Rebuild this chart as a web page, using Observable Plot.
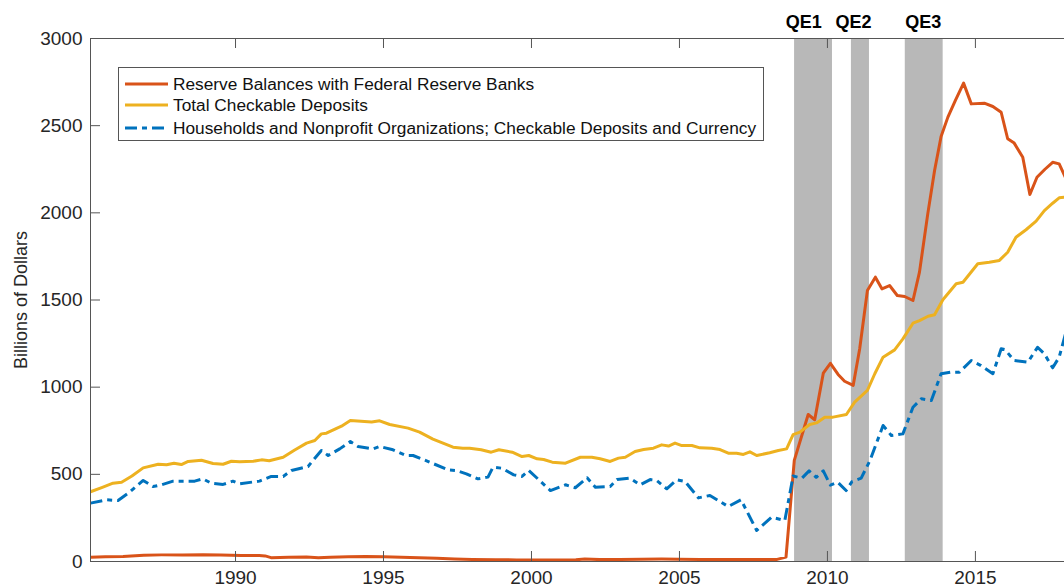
<!DOCTYPE html>
<html>
<head>
<meta charset="utf-8">
<script src="https://cdn.jsdelivr.net/npm/d3@7"></script>
<script src="https://cdn.jsdelivr.net/npm/@observablehq/plot@0.6"></script>
<style>
html, body { margin: 0; padding: 0; background: #fff; overflow: hidden; }
#wrap { position: relative; width: 1064px; height: 588px; }
#legend { position: absolute; left: 118px; top: 67px; width: 646px; height: 74px; box-sizing: border-box;
  border: 1px solid #555; background: #fff; font-family: "Liberation Sans", Arial, sans-serif; font-size: 17.3px; color: #111; }
.row { position: absolute; left: 6px; height: 22px; display: flex; align-items: center; white-space: nowrap; }
.row svg { margin-right: 5px; }
</style>
</head>
<body>
<div id="wrap"><div id="chart"></div><div id="legend"></div></div>
<script>
// ---- Data ----
const seriesNames = [
  "Reserve Balances with Federal Reserve Banks",
  "Total Checkable Deposits",
  "Households and Nonprofit Organizations; Checkable Deposits and Currency"
];
const seriesColors = ["#D95319", "#EDB120", "#0072BD"];

const qeLabels = ["QE1", "QE2", "QE3"];
const qeStart = [2008.89, 2010.81, 2012.63];
const qeEnd = [2010.17, 2011.42, 2013.91];
const qeLabelYears = [2009.2, 2010.88, 2013.24];

const xTicks = [1990, 1995, 2000, 2005, 2010, 2015];
const yTicks = [0, 500, 1000, 1500, 2000, 2500, 3000];

const reserveYears = [1985.10, 1985.6, 1986.2, 1986.9, 1987.5, 1988.2, 1988.9, 1989.5, 1990.2, 1990.8, 1991.0, 1991.2,
  1991.8, 1992.4, 1992.8, 1993.2, 1993.8, 1994.4, 1995.0, 1995.6, 1996.2, 1996.8, 1997.4, 1998.0, 1998.8, 1999.5,
  2000.2, 2000.8, 2001.5, 2001.8, 2002.3, 2003.0, 2003.7, 2004.4, 2005.0, 2005.7, 2006.5, 2007.2, 2007.9, 2008.3,
  2008.6, 2008.88, 2009.35, 2009.57, 2009.86, 2010.1, 2010.36, 2010.58, 2010.87, 2011.09, 2011.35, 2011.62, 2011.84,
  2012.1, 2012.36, 2012.61, 2012.89, 2013.11, 2013.39, 2013.62, 2013.84, 2014.07, 2014.32, 2014.6, 2014.86, 2015.3,
  2015.59, 2015.87, 2016.09, 2016.31, 2016.6, 2016.84, 2017.08, 2017.35, 2017.61, 2017.83, 2018.05];
const reserveValues = [25, 27, 28, 36, 38, 38, 39, 37, 35, 35, 32, 22,
  24, 26, 22, 25, 27, 29, 27, 24, 21, 18, 15, 12, 10, 9,
  8, 8, 10, 14, 11, 12, 13, 14, 13, 12, 11, 11, 11, 12,
  25, 580, 843, 813, 1080, 1137, 1073, 1034, 1010, 1220, 1554, 1631, 1564,
  1583, 1526, 1520, 1497, 1660, 1994, 2243, 2438, 2549, 2644, 2744, 2625, 2629,
  2610, 2577, 2425, 2400, 2319, 2105, 2204, 2250, 2290, 2281, 2200];

const depositYears = [1985.10, 1985.5, 1985.86, 1986.15, 1986.5, 1986.88, 1987.39, 1987.67, 1987.92, 1988.17, 1988.4,
  1988.85, 1989.24, 1989.58, 1989.86, 1990.14, 1990.6, 1990.88, 1991.14, 1991.61, 1992.0, 1992.4, 1992.68, 1992.9,
  1993.07, 1993.58, 1993.88, 1994.36, 1994.6, 1994.87, 1995.21, 1995.83, 1996.22, 1996.67, 1997.35, 1997.68, 1997.91,
  1998.3, 1998.64, 1998.9, 1999.35, 1999.68, 1999.91, 2000.19, 2000.41, 2000.7, 2001.15, 2001.65, 2002.04, 2002.32,
  2002.66, 2002.94, 2003.17, 2003.5, 2003.79, 2004.12, 2004.4, 2004.63, 2004.85, 2005.08, 2005.42, 2005.69, 2006.09,
  2006.37, 2006.65, 2006.93, 2007.16, 2007.38, 2007.61, 2008.05, 2008.34, 2008.62, 2008.84, 2009.07, 2009.4, 2009.63,
  2009.91, 2010.19, 2010.64, 2010.92, 2011.35, 2011.6, 2011.88, 2012.27, 2012.55, 2012.89, 2013.11, 2013.4, 2013.62,
  2013.9, 2014.35, 2014.58, 2015.08, 2015.47, 2015.81, 2016.09, 2016.37, 2016.71, 2017.05, 2017.33, 2017.61, 2017.83,
  2018.05];
const depositValues = [400, 425, 449, 455, 490, 537, 558, 555, 564, 556, 574,
  581, 562, 558, 575, 572, 575, 583, 578, 598, 640, 679, 694, 732,
  736, 776, 809, 803, 800, 807, 786, 765, 742, 702, 656, 650, 650,
  641, 627, 641, 627, 602, 608, 589, 585, 570, 564, 598, 598, 589,
  574, 593, 598, 631, 642, 650, 669, 662, 679, 665, 665, 652, 650,
  642, 621, 621, 614, 629, 608, 624, 637, 646, 728, 742, 786, 795,
  828, 828, 843, 914, 981, 1077, 1172, 1214, 1277, 1367, 1382, 1407, 1415,
  1501, 1593, 1602, 1708, 1717, 1727, 1774, 1860, 1903, 1952, 2013, 2055, 2086,
  2090];

const householdYears = [1985.10, 1985.64, 1986.03, 1986.42, 1986.88, 1987.21, 1987.5, 1987.89, 1988.62, 1988.9, 1989.18,
  1989.58, 1989.91, 1990.14, 1990.81, 1991.21, 1991.61, 1991.89, 1992.45, 1992.9, 1993.13, 1993.52, 1993.88, 1994.14,
  1994.65, 1994.87, 1995.32, 1995.77, 1996.0, 1996.56, 1997.18, 1997.46, 1997.8, 1998.19, 1998.53, 1998.7, 1999.0,
  1999.4, 1999.68, 1999.91, 2000.64, 2001.15, 2001.48, 2001.88, 2002.16, 2002.66, 2002.89, 2003.33, 2003.67, 2004.01,
  2004.23, 2004.57, 2004.91, 2005.19, 2005.64, 2006.03, 2006.65, 2007.08, 2007.61, 2008.11, 2008.56, 2008.84, 2009.14,
  2009.38, 2009.62, 2009.86, 2010.1, 2010.35, 2010.63, 2010.83, 2011.14, 2011.44, 2011.88, 2012.16, 2012.55, 2012.89,
  2013.17, 2013.51, 2013.84, 2014.18, 2014.46, 2014.86, 2015.19, 2015.59, 2015.87, 2016.0, 2016.31, 2016.77, 2017.1,
  2017.33, 2017.61, 2017.83, 2018.05];
const householdValues = [335, 354, 350, 398, 465, 430, 440, 461, 461, 474, 449,
  442, 461, 446, 461, 488, 488, 522, 545, 637, 608, 646, 688, 660,
  646, 660, 641, 608, 608, 570, 526, 522, 503, 474, 484, 541, 535,
  497, 488, 522, 407, 440, 423, 480, 426, 430, 470, 478, 440, 470,
  465, 417, 469, 459, 365, 379, 315, 354, 178, 254, 235, 490, 478,
  520, 483, 520, 438, 454, 407, 458, 478, 581, 780, 723, 732, 885,
  933, 923, 1077, 1086, 1086, 1153, 1124, 1077, 1220, 1215, 1153, 1143, 1229,
  1191, 1111, 1172, 1310];

// ---- Chart ----
const xDomain = [1985.10, 2018.01];
const axisColor = "#555";
const font = "Liberation Sans, Arial, sans-serif";

const chart = Plot.plot({
  width: 1064,
  height: 588,
  marginLeft: 90,
  marginRight: 0,
  marginTop: 38,
  marginBottom: 27,
  style: { fontFamily: font, fontSize: "19px", color: "#262626", background: "white" },
  x: { domain: xDomain },
  y: { domain: [0, 3000] },
  marks: [
    Plot.rect(qeLabels, { x1: qeStart, x2: qeEnd, y1: 0, y2: 3000, fill: "#b8b8b8" }),
    Plot.line(reserveValues, { x: reserveYears, y: reserveValues, stroke: seriesColors[0], strokeWidth: 3, clip: true }),
    Plot.line(depositValues, { x: depositYears, y: depositValues, stroke: seriesColors[1], strokeWidth: 3, clip: true }),
    Plot.line(householdValues, { x: householdYears, y: householdValues, stroke: seriesColors[2], strokeWidth: 3,
      strokeDasharray: "12,5,5,5", strokeLinecap: "butt", clip: true }),
    // frame
    Plot.ruleX([xDomain[0]], { stroke: axisColor }),
    Plot.ruleY([0, 3000], { stroke: axisColor }),
    // inward ticks
    Plot.ruleX(xTicks, { y1: 0, y2: 0, insetTop: -10, stroke: axisColor }),
    Plot.ruleX(xTicks, { y1: 3000, y2: 3000, insetBottom: -10, stroke: axisColor }),
    Plot.ruleY(yTicks, { x1: xDomain[0], x2: xDomain[0], insetRight: -10, stroke: axisColor }),
    Plot.axisX(xTicks, { anchor: "bottom", tickSize: 0, tickPadding: 9, tickFormat: d => String(d), label: null, fontSize: 19 }),
    Plot.axisY(yTicks, { anchor: "left", tickSize: 0, tickPadding: 8, tickFormat: d => String(d), label: null, fontSize: 19 }),
    Plot.text(["Billions of Dollars"], { frameAnchor: "left", rotate: -90, dx: -69, textAnchor: "middle",
      lineAnchor: "middle", fontSize: 18, fill: "#262626" }),
    Plot.text(qeLabels, { x: qeLabelYears, frameAnchor: "top", lineAnchor: "bottom", dy: -11,
      fontSize: 18, fontWeight: "bold", fill: "#000" })
  ]
});
document.getElementById("chart").appendChild(chart);

// ---- Legend (inside the axes box) ----
const legend = d3.select("#legend");
const rowTops = [5, 26, 49];
seriesNames.forEach((name, i) => {
  const row = legend.append("div").attr("class", "row").style("top", rowTops[i] + "px");
  const svg = row.append("svg").attr("width", 43).attr("height", 6);
  svg.append("line").attr("x1", 0).attr("x2", 43).attr("y1", 3).attr("y2", 3)
    .attr("stroke", seriesColors[i]).attr("stroke-width", 3)
    .attr("stroke-dasharray", i === 2 ? "12,5,5,5" : null);
  row.append("span").text(name);
});
</script>
</body>
</html>
